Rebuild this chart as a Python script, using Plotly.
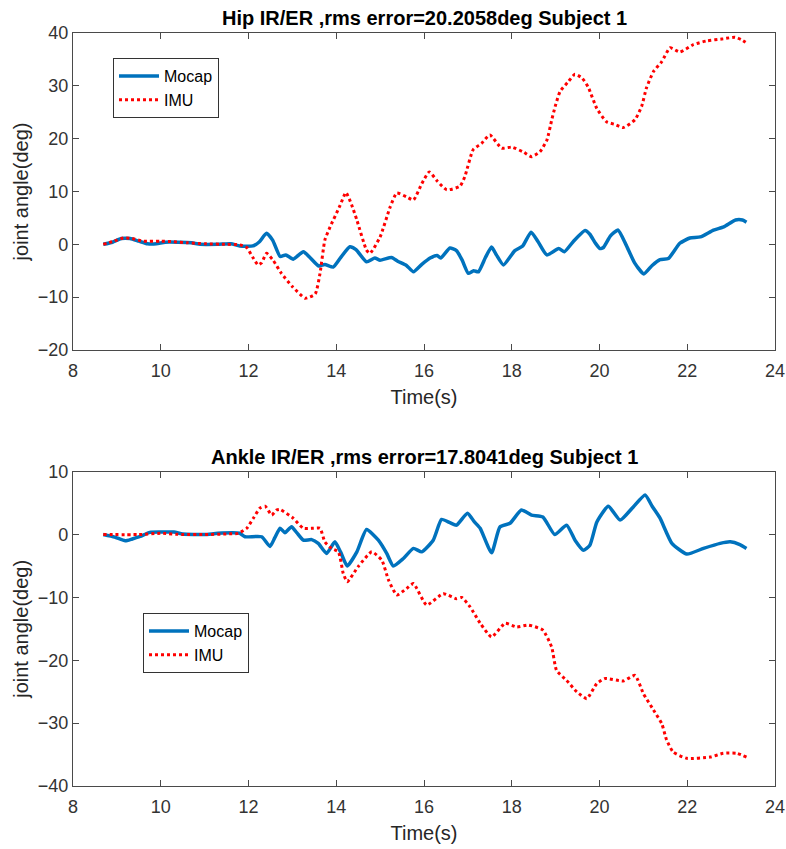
import plotly.graph_objects as go

# Hip internal/external rotation, subject 1
hip_mocap_t = [8.69, 8.9, 9.1, 9.3, 9.5, 9.7, 9.9, 10.1, 10.4, 10.7, 10.9, 11.3, 11.6, 11.8, 12.1,
               12.25, 12.41, 12.55, 12.72, 12.85, 13.02, 13.25, 13.4, 13.6, 13.74, 13.93, 14.1,
               14.31, 14.45, 14.69, 14.88, 15.0, 15.26, 15.4, 15.6, 15.76, 15.95, 16.14, 16.3,
               16.38, 16.59, 16.74, 16.87, 17.01, 17.13, 17.24, 17.4, 17.54, 17.65, 17.81, 18.07,
               18.25, 18.44, 18.6, 18.8, 19.07, 19.2, 19.4, 19.67, 19.78, 19.9, 20.01, 20.09,
               20.25, 20.42, 20.6, 20.8, 21.01, 21.2, 21.38, 21.57, 21.83, 22.06, 22.3, 22.6,
               22.83, 23.1, 23.26, 23.35]
hip_mocap = [0.0, 0.4, 1.1, 1.1, 0.6, 0.1, 0.1, 0.4, 0.4, 0.3, 0.0, 0.0, 0.1, -0.3, -0.3,
             0.5, 2.1, 0.8, -2.3, -2.0, -2.8, -1.4, -2.5, -4.1, -3.8, -4.3, -2.5,
             -0.45, -1.0, -3.3, -2.6, -3.0, -2.5, -3.2, -4.0, -5.2, -3.8, -2.6, -2.1,
             -2.6, -0.7, -1.2, -3.0, -5.5, -5.0, -5.2, -2.5, -0.5, -2.0, -3.9, -1.2,
             -0.3, 2.3, 0.5, -2.0, -0.8, -1.4, 0.5, 2.6, 1.9, 0.3, -0.8, -0.6,
             1.6, 2.7, 0.0, -3.5, -5.6, -4.0, -2.9, -2.7, 0.2, 1.2, 1.4, 2.7,
             3.3, 4.6, 4.6, 4.2]

hip_imu_t = [8.69, 8.9, 9.15, 9.35, 9.6, 10.0, 10.3, 10.6, 11.0, 11.5, 11.8, 11.96, 12.1, 12.22,
             12.3, 12.41, 12.56, 12.75, 13.0, 13.29, 13.52, 13.63, 13.74, 13.86, 14.09, 14.22,
             14.35, 14.47, 14.69, 14.77, 15.0, 15.23, 15.38, 15.6, 15.76, 15.95, 16.12, 16.3,
             16.52, 16.82, 16.93, 17.12, 17.31, 17.5, 17.77, 18.0, 18.26, 18.45, 18.64, 18.8,
             18.91, 18.99, 19.1, 19.29, 19.44, 19.6, 19.74, 19.94, 20.16, 20.35, 20.54, 20.81,
             20.96, 21.07, 21.23, 21.42, 21.61, 21.83, 22.14, 22.44, 22.82, 23.09, 23.24, 23.39]
hip_imu = [0.0, 0.5, 1.2, 1.1, 0.6, 0.6, 0.5, 0.3, 0.1, 0.0, -0.1, -0.6, -2.5, -3.9,
           -3.5, -1.7, -3.0, -5.5, -8.0, -10.2, -9.4, -5.5, 0.8, 3.3, 7.4, 9.8,
           7.5, 4.6, -1.1, -1.7, 1.4, 7.1, 9.7, 9.0, 8.4, 11.5, 13.7, 12.0,
           10.3, 11.0, 12.8, 17.9, 19.1, 20.7, 18.2, 18.4, 17.5, 16.6, 17.5, 19.7,
           23.5, 26.1, 28.9, 30.8, 32.2, 31.5, 29.8, 25.7, 23.2, 22.7, 22.1, 23.6,
           26.1, 29.6, 32.7, 34.6, 37.2, 36.4, 37.8, 38.5, 38.9, 39.2, 38.7, 37.9]

# Ankle internal/external rotation, subject 1
ankle_mocap_t = [8.69, 8.95, 9.19, 9.35, 9.53, 9.75, 10.0, 10.3, 10.5, 11.0, 11.3, 11.8, 11.92,
                 12.3, 12.49, 12.6, 12.72, 12.83, 12.98, 13.1, 13.25, 13.44, 13.59, 13.78, 13.97,
                 14.1, 14.25, 14.47, 14.69, 14.96, 15.15, 15.3, 15.53, 15.76, 15.95, 16.21, 16.4,
                 16.59, 16.74, 16.99, 17.15, 17.28, 17.54, 17.73, 17.96, 18.22, 18.45, 18.71,
                 18.98, 19.25, 19.45, 19.63, 19.78, 19.94, 20.2, 20.47, 20.77, 21.04, 21.2,
                 21.38, 21.65, 21.99, 22.37, 22.75, 22.98, 23.2, 23.35]
ankle_mocap = [0.0, -0.4, -1.0, -0.7, -0.3, 0.35, 0.4, 0.4, 0.1, 0.0, 0.2, 0.2, -0.35,
               -0.35, -1.9, -0.5, 1.0, 0.3, 1.25, 0.3, -0.9, -0.8, -1.4, -3.0, -1.15,
               -2.8, -5.0, -2.75, 0.8, -0.9, -3.0, -5.0, -3.8, -2.2, -2.75, -0.9, 2.4,
               1.9, 1.5, 3.4, 2.0, 1.0, -2.9, 1.2, 1.8, 3.9, 3.1, 2.8,
               0.0, 1.5, -1.0, -2.5, -1.7, 2.0, 4.5, 2.3, 4.4, 6.3, 4.5,
               2.6, -1.4, -3.1, -2.2, -1.4, -1.15, -1.6, -2.2]

ankle_imu_t = [8.69, 9.5, 10.0, 10.5, 11.0, 11.5, 11.77, 11.96, 12.11, 12.26, 12.38, 12.53,
               12.64, 12.72, 13.02, 13.25, 13.48, 13.63, 13.74, 13.89, 14.05, 14.16, 14.25,
               14.5, 14.81, 15.04, 15.19, 15.38, 15.6, 15.76, 16.06, 16.44, 16.74, 16.86,
               17.05, 17.28, 17.54, 17.85, 18.11, 18.38, 18.71, 18.91, 19.02, 19.25, 19.48,
               19.71, 19.94, 20.13, 20.54, 20.81, 21.0, 21.23, 21.42, 21.53, 21.68, 21.99,
               22.52, 22.82, 23.13, 23.35]
ankle_imu = [0.0, 0.0, 0.2, 0.0, 0.0, 0.1, 0.2, 1.0, 2.6, 4.2, 4.5, 3.1,
             3.9, 4.0, 2.6, 1.0, 1.0, 1.0, -1.15, -2.2, -2.75, -6.2, -7.5,
             -5.1, -2.75, -4.1, -7.2, -9.6, -8.6, -7.8, -11.2, -9.4, -10.2, -10.0,
             -11.5, -14.1, -16.3, -14.1, -14.7, -14.4, -15.2, -17.9, -21.6, -23.2, -25.0,
             -26.1, -23.7, -22.9, -23.3, -22.4, -25.3, -27.9, -30.1, -32.7, -34.6, -35.6,
             -35.4, -34.8, -34.8, -35.4]

x_ticks = [8, 10, 12, 14, 16, 18, 20, 22, 24]
hip_y_ticks = [-20, -10, 0, 10, 20, 30, 40]
ankle_y_ticks = [-40, -30, -20, -10, 0, 10]

titles = ["Hip IR/ER ,rms error=20.2058deg Subject 1",
          "Ankle IR/ER ,rms error=17.8041deg Subject 1"]

MOCAP_BLUE = "#0072BD"
IMU_RED = "#FF0000"
AXIS_COLOR = "#4a4a4a"
FONT = "Liberation Sans, Arial, sans-serif"

W, H = 786, 849
M_L, M_R, M_T, M_B = 73, 11, 33, 63
plot_h = H - M_T - M_B


def py_to_paper(py):
    return (H - M_B - py) / plot_h


top_dom = [py_to_paper(350), 1.0]
bot_dom = [0.0, py_to_paper(471.7)]

fig = go.Figure()

mocap_line = dict(color=MOCAP_BLUE, width=3.5)
imu_line = dict(color=IMU_RED, width=3, dash="3px,3px")

fig.add_trace(go.Scatter(x=hip_mocap_t, y=hip_mocap, mode="lines", name="Mocap",
                         line=dict(**mocap_line, shape="spline", smoothing=0.5),
                         xaxis="x", yaxis="y", legend="legend"))
fig.add_trace(go.Scatter(x=hip_imu_t, y=hip_imu, mode="lines", name="IMU",
                         line=dict(**imu_line, shape="spline", smoothing=0.5),
                         xaxis="x", yaxis="y", legend="legend"))
fig.add_trace(go.Scatter(x=ankle_mocap_t, y=ankle_mocap, mode="lines", name="Mocap",
                         line=dict(**mocap_line, shape="spline", smoothing=0.5),
                         xaxis="x2", yaxis="y2", legend="legend2"))
fig.add_trace(go.Scatter(x=ankle_imu_t, y=ankle_imu, mode="lines", name="IMU",
                         line=dict(**imu_line, shape="spline", smoothing=0.5),
                         xaxis="x2", yaxis="y2", legend="legend2"))

axis_common = dict(showline=True, linecolor=AXIS_COLOR, linewidth=1.3, mirror="ticks",
                   ticks="inside", ticklen=6, tickwidth=1.3, tickcolor=AXIS_COLOR,
                   showgrid=False, zeroline=False, automargin=False,
                   tickfont=dict(family=FONT, size=18, color="#333333"))
xtitle = dict(text="Time(s)", font=dict(family=FONT, size=20, color="#262626"), standoff=10)
ytitle = dict(text="joint angle(deg)", font=dict(family=FONT, size=20, color="#262626"),
              standoff=3)

legend_common = dict(bgcolor="white", bordercolor="#333333", borderwidth=1,
                     font=dict(family=FONT, size=16, color="#000000"),
                     xanchor="left", yanchor="top", itemwidth=40, tracegroupgap=0)

fig.update_layout(
    width=W, height=H, autosize=False,
    margin=dict(l=M_L, r=M_R, t=M_T, b=M_B, pad=0, autoexpand=False),
    paper_bgcolor="white", plot_bgcolor="white",
    xaxis=dict(domain=[0, 1], range=[8, 24], tickvals=x_ticks, anchor="y",
               ticklabelstandoff=4, title=xtitle, **axis_common),
    yaxis=dict(domain=top_dom, range=[-20, 40], tickvals=hip_y_ticks, anchor="x",
               title=ytitle, **axis_common),
    xaxis2=dict(domain=[0, 1], range=[8, 24], tickvals=x_ticks, anchor="y2",
                ticklabelstandoff=4, title=xtitle, **axis_common),
    yaxis2=dict(domain=bot_dom, range=[-40, 10], tickvals=ankle_y_ticks, anchor="x2",
                title=ytitle, **axis_common),
    legend=dict(x=(113 - M_L) / (W - M_L - M_R), y=py_to_paper(58), **legend_common),
    legend2=dict(x=(143 - M_L) / (W - M_L - M_R), y=py_to_paper(613), **legend_common),
    showlegend=True,
)

for dom, title in zip([top_dom, bot_dom], titles):
    fig.add_annotation(x=0.5, y=dom[1], xref="paper", yref="paper",
                       xanchor="center", yanchor="bottom", yshift=2,
                       text="<b>" + title + "</b>", showarrow=False,
                       font=dict(family=FONT, size=20, color="#000000"))

fig.write_html("out.html")
